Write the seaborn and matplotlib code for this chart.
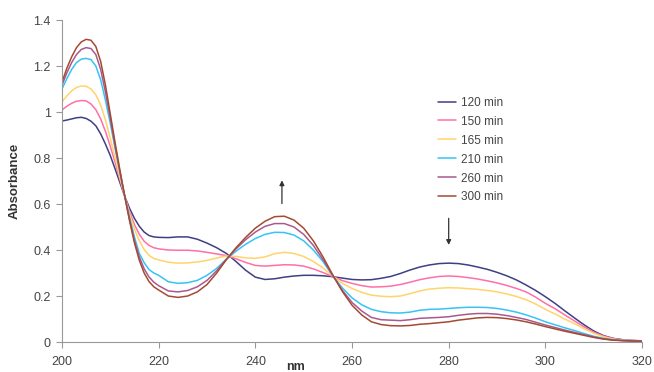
import pandas as pd
import seaborn as sns
import matplotlib.pyplot as plt
from matplotlib.ticker import FuncFormatter

# wavelengths (nm): 1 nm steps up to 220, then 2 nm steps
nm = list(range(200, 221)) + list(range(222, 321, 2))

a120 = [0.961, 0.965, 0.970, 0.975, 0.977, 0.972, 0.960, 0.940, 0.905, 0.860, 0.810,
        0.752, 0.692, 0.632, 0.580, 0.537, 0.503, 0.478, 0.463, 0.457, 0.455,
        0.454, 0.457, 0.457, 0.447, 0.430, 0.410, 0.385, 0.350, 0.312, 0.282,
        0.272, 0.275, 0.282, 0.287, 0.290, 0.290, 0.288, 0.284, 0.278, 0.272,
        0.270, 0.271, 0.277, 0.285, 0.298, 0.313, 0.326, 0.335, 0.341, 0.343,
        0.341, 0.335, 0.326, 0.316, 0.303, 0.288, 0.270, 0.248, 0.224, 0.197,
        0.168, 0.136, 0.105, 0.075, 0.048, 0.028, 0.016, 0.010, 0.007, 0.005]
a150 = [1.009, 1.025, 1.038, 1.047, 1.050, 1.048, 1.035, 1.010, 0.970, 0.915, 0.850,
        0.780, 0.705, 0.632, 0.565, 0.510, 0.468, 0.438, 0.420, 0.410, 0.405,
        0.400, 0.399, 0.399, 0.396, 0.390, 0.383, 0.376, 0.362, 0.346, 0.333,
        0.330, 0.333, 0.336, 0.335, 0.330, 0.318, 0.302, 0.285, 0.267, 0.255,
        0.245, 0.239, 0.240, 0.243, 0.250, 0.260, 0.271, 0.279, 0.285, 0.287,
        0.285, 0.280, 0.274, 0.266, 0.257, 0.246, 0.233, 0.218, 0.195, 0.168,
        0.145, 0.118, 0.092, 0.066, 0.043, 0.026, 0.015, 0.009, 0.006, 0.005]
a165 = [1.045, 1.070, 1.092, 1.107, 1.113, 1.112, 1.100, 1.075, 1.030, 0.965, 0.885,
        0.800, 0.715, 0.632, 0.555, 0.490, 0.440, 0.402, 0.377, 0.363, 0.357,
        0.347, 0.343, 0.344, 0.348, 0.355, 0.365, 0.374, 0.372, 0.366, 0.364,
        0.370, 0.384, 0.390, 0.385, 0.372, 0.350, 0.322, 0.287, 0.255, 0.233,
        0.216, 0.204, 0.199, 0.197, 0.200, 0.210, 0.222, 0.230, 0.234, 0.236,
        0.235, 0.232, 0.229, 0.224, 0.218, 0.209, 0.198, 0.184, 0.165, 0.142,
        0.122, 0.100, 0.080, 0.058, 0.038, 0.023, 0.013, 0.008, 0.006, 0.005]
a210 = [1.100, 1.145, 1.185, 1.215, 1.230, 1.233, 1.228, 1.200, 1.140, 1.050, 0.950,
        0.840, 0.735, 0.632, 0.540, 0.455, 0.385, 0.345, 0.315, 0.300, 0.290,
        0.262, 0.255, 0.258, 0.268, 0.290, 0.320, 0.360, 0.395, 0.425, 0.450,
        0.468, 0.477, 0.476, 0.465, 0.440, 0.400, 0.350, 0.288, 0.235, 0.192,
        0.162, 0.142, 0.132, 0.127, 0.126, 0.130, 0.138, 0.142, 0.143, 0.146,
        0.149, 0.151, 0.151, 0.150, 0.146, 0.139, 0.130, 0.118, 0.104, 0.088,
        0.075, 0.062, 0.050, 0.037, 0.025, 0.016, 0.010, 0.007, 0.005, 0.004]
a260 = [1.117, 1.170, 1.215, 1.250, 1.272, 1.280, 1.276, 1.250, 1.185, 1.085, 0.970,
        0.850, 0.738, 0.632, 0.530, 0.440, 0.370, 0.318, 0.283, 0.260, 0.245,
        0.222, 0.218, 0.224, 0.240, 0.268, 0.310, 0.360, 0.405, 0.445, 0.478,
        0.503, 0.515, 0.515, 0.500, 0.468, 0.420, 0.358, 0.290, 0.225, 0.172,
        0.135, 0.107, 0.097, 0.095, 0.093, 0.097, 0.103, 0.105, 0.107, 0.110,
        0.116, 0.121, 0.124, 0.124, 0.121, 0.115, 0.107, 0.098, 0.086, 0.074,
        0.063, 0.052, 0.042, 0.032, 0.022, 0.014, 0.009, 0.006, 0.005, 0.004]
a300 = [1.130, 1.190, 1.240, 1.280, 1.305, 1.316, 1.312, 1.285, 1.220, 1.115, 0.990,
        0.865, 0.745, 0.632, 0.525, 0.430, 0.355, 0.300, 0.263, 0.240, 0.226,
        0.200, 0.194, 0.200, 0.218, 0.250, 0.300, 0.358, 0.410, 0.455, 0.495,
        0.525, 0.545, 0.547, 0.530, 0.495, 0.440, 0.370, 0.292, 0.220, 0.160,
        0.118, 0.088, 0.076, 0.071, 0.070, 0.072, 0.077, 0.080, 0.084, 0.088,
        0.095, 0.100, 0.105, 0.107, 0.106, 0.102, 0.096, 0.088, 0.078, 0.067,
        0.057, 0.047, 0.038, 0.029, 0.020, 0.013, 0.008, 0.006, 0.004, 0.004]

labels = ['120 min', '150 min', '165 min', '210 min', '260 min', '300 min']
colors = ['#3f3f85', '#ff6fa8', '#ffd46a', '#35c4f5', '#a85a8e', '#a44a32']

rows = []
for lab, vals in zip(labels, [a120, a150, a165, a210, a260, a300]):
    for w, v in zip(nm, vals):
        rows.append({'nm': w, 'Absorbance': v, 'time': lab})
df = pd.DataFrame(rows)

sns.set_style('white')
plt.rcParams['font.family'] = ['Liberation Sans', 'DejaVu Sans']

fig = plt.figure(figsize=(6.54, 3.72), dpi=100)
ax = fig.add_axes([0.0948, 0.0806, 0.8869, 0.8656])

sns.lineplot(data=df, x='nm', y='Absorbance', hue='time', hue_order=labels,
             palette=colors, linewidth=1.1, ax=ax)

ax.set_xlim(200, 320)
ax.set_ylim(0, 1.4)
ax.set_xticks(range(200, 321, 20))
ax.set_yticks([0, 0.2, 0.4, 0.6, 0.8, 1.0, 1.2, 1.4])
ax.yaxis.set_major_formatter(FuncFormatter(lambda v, p: '%g' % round(v, 1)))
ax.tick_params(axis='both', direction='out', length=4, width=0.8,
               color='#999999', labelcolor='#444444', labelsize=9,
               left=True, bottom=True)
ax.tick_params(axis='x', pad=6)
ax.tick_params(axis='y', pad=4)
for s in ['top', 'right']:
    ax.spines[s].set_visible(False)
for s in ['left', 'bottom']:
    ax.spines[s].set_color('#999999')
    ax.spines[s].set_linewidth(0.8)

ax.set_xlabel('nm', fontsize=9, fontweight='bold', color='#333333', va='top')
ax.xaxis.set_label_coords(0.403, -0.058)
ax.set_ylabel('Absorbance', fontsize=9.5, fontweight='bold', color='#333333', labelpad=9)

# arrows showing direction of change
ax.annotate('', xy=(245.5, 0.715), xytext=(245.5, 0.59),
            arrowprops=dict(arrowstyle='-|>', color='#333333', lw=0.9, mutation_scale=7))
ax.annotate('', xy=(280, 0.41), xytext=(280, 0.55),
            arrowprops=dict(arrowstyle='-|>', color='#333333', lw=0.9, mutation_scale=7))

ax.legend(frameon=False, loc='upper left', bbox_to_anchor=(0.649, 0.762),
          fontsize=8.5, handlelength=1.5, handletextpad=0.45, labelspacing=0.59,
          borderpad=0, borderaxespad=0, labelcolor='#444444')

fig.savefig('out.png', dpi=100)
